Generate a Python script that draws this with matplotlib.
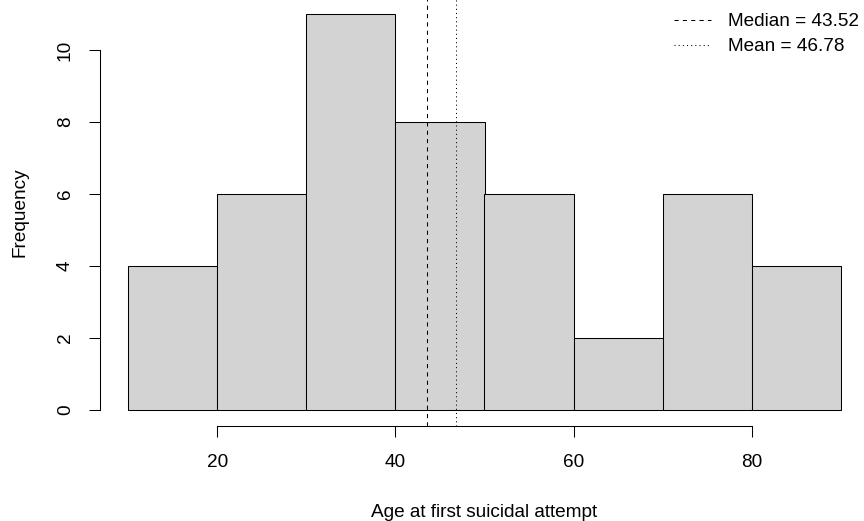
import matplotlib
matplotlib.use("Agg")
import matplotlib.pyplot as plt
from matplotlib.lines import Line2D

bin_edges = [10, 20, 30, 40, 50, 60, 70, 80, 90]
counts = [4, 6, 11, 8, 6, 2, 6, 4]
median_val = 43.52
mean_val = 46.78
x_ticks = [20, 40, 60, 80]
y_ticks = [0, 2, 4, 6, 8, 10]

plt.rcParams['font.family'] = ['Liberation Sans', 'DejaVu Sans']
FS = 13.7

W, H = 864, 521
fig = plt.figure(figsize=(W / 100, H / 100), dpi=100)
left_px, right_px = 99.5, 869.5
top_px, bot_px = -1.8, 426.0
ax = fig.add_axes([left_px / W, (H - bot_px) / H, (right_px - left_px) / W, (bot_px - top_px) / H])

widths = [bin_edges[i + 1] - bin_edges[i] for i in range(len(counts))]
ax.bar(bin_edges[:-1], counts, width=widths, align='edge', color='#D3D3D3',
       edgecolor='black', linewidth=0.75)

ax.set_xlim(6.8, 93.2)
ax.set_ylim(-0.44, 11.44)

ax.axvline(median_val, color='black', linewidth=0.75, linestyle=(0, (4, 4)))
ax.axvline(mean_val, color='black', linewidth=0.75, linestyle=(0, (1, 3)))

for s in ['top', 'right']:
    ax.spines[s].set_visible(False)
ax.spines['left'].set_bounds(0, 10)
ax.spines['bottom'].set_bounds(20, 80)
ax.spines['left'].set_linewidth(0.75)
ax.spines['bottom'].set_linewidth(0.75)
ax.set_xticks(x_ticks)
ax.set_yticks(y_ticks)
ax.set_xticklabels([str(t) for t in x_ticks], fontsize=FS)
ax.set_yticklabels([str(t) for t in y_ticks], fontsize=FS, rotation=90, va='center')
ax.tick_params(axis='both', length=8, width=0.75, colors='black')
ax.tick_params(axis='x', pad=12)
ax.tick_params(axis='y', pad=10.5)

ax.set_xlabel('Age at first suicidal attempt', fontsize=FS, labelpad=24)
ax.set_ylabel('Frequency', fontsize=FS, labelpad=20.5)

handles = [Line2D([], [], color='black', linewidth=0.75, linestyle=(0, (4, 4))),
           Line2D([], [], color='black', linewidth=0.75, linestyle=(0, (1, 3)))]
fig.legend(handles, [f'Median = {median_val:.2f}', f'Mean = {mean_val:.2f}'],
           loc='upper right', bbox_to_anchor=(859 / W, 1 - 13 / H), frameon=False,
           fontsize=FS, handlelength=1.95, handletextpad=0.9, labelspacing=0.4,
           borderpad=0, borderaxespad=0)

fig.savefig('out.png', dpi=100)
